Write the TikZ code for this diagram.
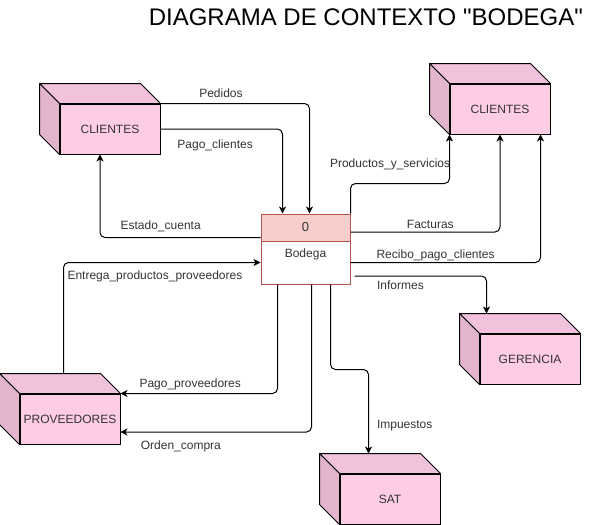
\documentclass[tikz,border=0pt]{standalone}
\usepackage{fontspec}
\setmainfont{Liberation Sans}
\usetikzlibrary{arrows.meta,positioning}
\definecolor{cubofrente}{HTML}{FFCCE6}
\definecolor{cubotapa}{HTML}{F2C1DB}
\definecolor{cubolado}{HTML}{E3B5CD}
\definecolor{procfondo}{HTML}{F8CECC}
\definecolor{procborde}{HTML}{B85450}
\begin{document}
\begin{tikzpicture}[x=1pt, y=-1pt,
		cubo/.style={draw, line width=1pt, fill=cubofrente, minimum width=100pt, minimum height=50pt, inner sep=0pt, font=\fontsize{12}{14}\selectfont, text=black!80},
		caras/.style={draw, line width=1pt, line join=round},
		proceso/.style={draw=procborde, line width=1pt, minimum width=89pt, inner sep=0pt, font=\fontsize{12}{14}\selectfont, text=black!80},
		flujo/.style={draw, line width=1pt, rounded corners=5pt, -{Stealth[length=7pt, width=7pt, inset=2pt]}},
		etiqueta/.style={font=\fontsize{12}{14}\selectfont, text=black!80, inner sep=2pt}]
		\useasboundingbox (0,0) rectangle (590,525);

		\node(titulo)[anchor=base, font=\fontsize{24}{28}\selectfont] at (365.8,25){DIAGRAMA DE CONTEXTO \textquotedbl BODEGA\textquotedbl};

		% entidades externas
		\node(cli1)[cubo] at (110,129){CLIENTES};
		\node(cli2)[cubo] at (500,109){CLIENTES};
		\node(prov)[cubo] at (70,419){PROVEEDORES};
		\node(ger)[cubo] at (530,359){GERENCIA};
		\node(sat)[cubo] at (390,499){SAT};
		\foreach \n in {cli1,cli2,prov,ger,sat}{
			\filldraw[caras, fill=cubotapa] (\n.north west) -- ([shift={(-20pt,20pt)}]\n.north west) -- ([shift={(-20pt,20pt)}]\n.north east) -- (\n.north east) -- cycle;
			\filldraw[caras, fill=cubolado] (\n.north west) -- ([shift={(-20pt,20pt)}]\n.north west) -- ([shift={(-20pt,20pt)}]\n.south west) -- (\n.south west) -- cycle;
		}

		% proceso
		\node(cab)[proceso, fill=procfondo, minimum height=27pt, font=\fontsize{13}{15}\selectfont] at (305.5,227.5){0};
		\node(cuerpo)[proceso, fill=white, minimum height=43pt, label={[etiqueta, anchor=north, yshift=-6pt]north:Bodega}] at (305.5,262.5){};

		% flujos
		\draw[flujo] (cli1.north east) -| node[etiqueta, pos=0.203, above=3pt]{Pedidos} ([xshift=49pt]cab.north west);
		\draw[flujo] (cli1.east) -| node[etiqueta, pos=0.224, below=8pt]{Pago\_clientes} ([xshift=22pt]cab.north west);
		\draw[flujo] ([yshift=4pt]cab.south west) -| node[etiqueta, pos=0.311, above=3pt]{Estado\_cuenta} ([xshift=-10pt]cli1.south);
		\draw[flujo] (cab.north east) -- ++(0,-30) -| node[etiqueta, pos=0.2, above=11pt]{Productos\_y\_servicios} (cli2.south west);
		\draw[flujo] ([yshift=-4.5pt]cab.east) -| node[etiqueta, pos=0.267, above=1pt]{Facturas} (cli2.south);
		\draw[flujo] (cuerpo.east) -| node[etiqueta, pos=0.224, above, yshift=-1pt]{Recibo\_pago\_clientes} ([xshift=-10pt]cli2.south east);
		\draw[flujo] ([shift={(4pt,-13.5pt)}]cuerpo.east) -| node[etiqueta, pos=0.174, below=2pt]{Informes} ([shift={(7pt,20pt)}]ger.north west);
		\draw[flujo] ([shift={(44pt,20pt)}]prov.north west) |- node[etiqueta, pos=0.732, below=6pt]{Entrega\_productos\_proveedores} (cuerpo.west);
		\draw[flujo] ([xshift=17pt]cuerpo.south west) |- node[etiqueta, pos=0.778, above=1pt]{Pago\_proveedores} (prov.north east);
		\draw[flujo] ([xshift=51pt]cuerpo.south west) |- node[etiqueta, pos=0.842, below=6pt]{Orden\_compra} ([yshift=-13pt]prov.east);
		\draw[flujo] ([xshift=70pt]cuerpo.south west) -- ++(0,85) -| node[etiqueta, pos=0.835, right=6pt]{Impuestos} ([shift={(29pt,20pt)}]sat.north west);
	\end{tikzpicture}
\end{document}
